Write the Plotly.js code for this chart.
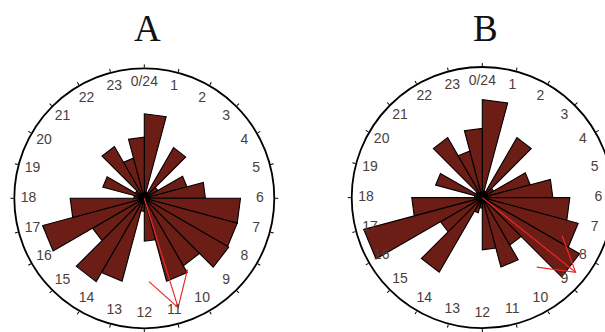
<!DOCTYPE html>
<html>
<head>
<meta charset="utf-8">
<script src="https://cdn.plot.ly/plotly-3.0.1.min.js"></script>
<style>
  html, body { margin: 0; padding: 0; overflow: hidden; background: #ffffff; }
  #chart { width: 620px; height: 332px; }
</style>
</head>
<body>
<div id="chart"></div>
<script>
// Hour-of-day labels around each clock face
const hourLabels = ["0/24","1","2","3","4","5","6","7","8","9","10","11",
                    "12","13","14","15","16","17","18","19","20","21","22","23"];

// Share of events per one-hour bin (bin h covers h:00 - h+1:00)
const hoursA = [65, 5, 45, 12, 34, 47, 74, 74, 75, 60, 66, 33,
                10, 66, 74, 46, 81, 57, 8, 33, 8, 46, 32, 47];
const hoursB = [75, 5, 53, 10, 38, 54, 67, 76, 86, 42, 55, 40,
                8, 12, 66, 37, 94, 54, 6, 37, 6, 53, 37, 53];

// Mean vector of each panel: length and direction (degrees clockwise from 0/24)
const meanLength = [88, 91.5];
const meanAngle  = [162.8, 128.7];

const panelTitles = ["A", "B"];

const RMAX = 100;
const BIN_DEG = 360 / hourLabels.length;

const barColor = "#6c1d16";
const arrowColor = "rgb(238,40,40)";

// polar <-> cartesian helpers (angle clockwise from the top)
function toXY(r, deg) {
  const a = deg * Math.PI / 180;
  return [r * Math.sin(a), r * Math.cos(a)];
}
function toPolar(x, y) {
  let deg = Math.atan2(x, y) * 180 / Math.PI;
  if (deg < 0) deg += 360;
  return [Math.hypot(x, y), deg];
}

// shaft plus two head strokes of the mean-vector arrow
function arrowPath(len, ang, headLen, headDeg) {
  const tip = toXY(len, ang);
  const back = [-tip[0] / len, -tip[1] / len];
  const ends = [headDeg, -headDeg].map(d => {
    const a = d * Math.PI / 180;
    const ux = back[0] * Math.cos(a) - back[1] * Math.sin(a);
    const uy = back[0] * Math.sin(a) + back[1] * Math.cos(a);
    return toPolar(tip[0] + headLen * ux, tip[1] + headLen * uy);
  });
  return {
    r:     [0, len, null, ends[0][0], len, ends[1][0]],
    theta: [ang, ang, null, ends[0][1], ang, ends[1][1]]
  };
}

const hourAngles = hourLabels.map((_, i) => i * BIN_DEG);

const traces = [];
[hoursA, hoursB].forEach((vals, k) => {
  const sub = k === 0 ? "polar" : "polar2";
  // rose petals: straight-edged wedges from the centre out to each bin's value
  vals.forEach((v, i) => {
    const a0 = i * BIN_DEG, a1 = (i + 1) * BIN_DEG;
    traces.push({
      type: "scatterpolar",
      subplot: sub,
      mode: "lines",
      r: [0, v, v, 0],
      theta: [a0, a0, a1, a1],
      fill: "toself",
      fillcolor: barColor,
      line: { color: "#000000", width: 1.1 },
      hoverinfo: "skip"
    });
  });
  traces.push({
    type: "scatterpolar",
    subplot: sub,
    mode: "markers",
    r: [0],
    theta: [0],
    marker: { color: "#000000", size: 12, symbol: "circle" },
    hoverinfo: "skip"
  });
  const arr = arrowPath(meanLength[k], meanAngle[k], 30, 31);
  traces.push({
    type: "scatterpolar",
    subplot: sub,
    mode: "lines",
    r: arr.r,
    theta: arr.theta,
    connectgaps: false,
    line: { color: arrowColor, width: 1.2 },
    hoverinfo: "skip"
  });
  traces.push({
    type: "scatterpolar",
    subplot: sub,
    mode: "text",
    r: hourLabels.map(() => 89),
    theta: hourAngles,
    text: hourLabels,
    textposition: "middle center",
    textfont: { family: "Liberation Sans, Arial, sans-serif", size: 14, color: "#4d3e3a" },
    cliponaxis: false,
    hoverinfo: "skip"
  });
});

const W = 620, H = 332;
function polarLayout(cx, cy, R) {
  return {
    domain: {
      x: [(cx - R) / W, (cx + R) / W],
      y: [(H - cy - R) / H, (H - cy + R) / H]
    },
    bgcolor: "rgba(0,0,0,0)",
    radialaxis: { range: [0, RMAX], visible: false, showgrid: false },
    angularaxis: {
      rotation: 90,
      direction: "clockwise",
      thetaunit: "degrees",
      showgrid: false,
      showticklabels: false,
      ticks: "outside",
      ticklen: 3,
      tickwidth: 1,
      tickcolor: "#000000",
      dtick: BIN_DEG,
      showline: true,
      linecolor: "#000000",
      linewidth: 1.8
    }
  };
}

const layout = {
  width: W,
  height: H,
  margin: { l: 0, r: 0, t: 0, b: 0 },
  paper_bgcolor: "#ffffff",
  showlegend: false,
  polar: polarLayout(144.3, 198.3, 130),
  polar2: polarLayout(482.3, 197.6, 130.6),
  annotations: panelTitles.map((t, k) => ({
    text: t,
    xref: "paper", yref: "paper",
    x: (k === 0 ? 147 : 485) / W,
    y: (H - 28) / H,
    xanchor: "center", yanchor: "middle",
    showarrow: false,
    font: { family: "Liberation Serif, Times New Roman, serif", size: 37, color: "#111111" }
  }))
};

Plotly.newPlot("chart", traces, layout, { staticPlot: true, displayModeBar: false });
</script>
</body>
</html>
